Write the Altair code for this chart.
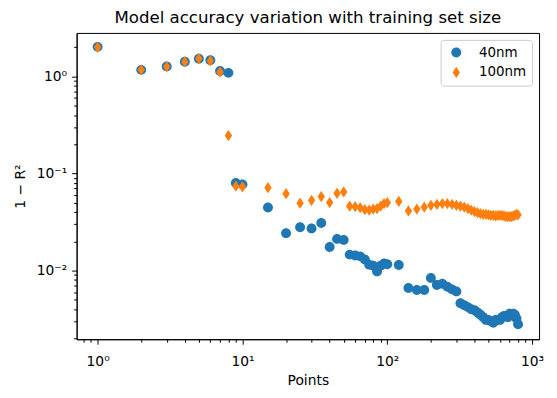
import altair as alt
import pandas as pd

# ---- data ----
points = [1, 2, 3, 4, 5, 6, 7, 8, 9, 10,
          15, 20, 25, 30, 35, 40, 45, 50, 55, 60, 65, 70, 75, 80, 85, 90, 95, 100,
          120, 140, 160, 180, 200, 220, 240, 260, 280, 300, 320, 340, 360, 380, 400,
          420, 440, 460, 480, 500, 520, 540, 560, 580, 600, 620, 640, 660, 680, 700,
          720, 740, 760, 780, 800]

err_40nm = [2.02, 1.17, 1.27, 1.42, 1.52, 1.47, 1.14, 1.09, 0.080, 0.077,
            0.0447, 0.0243, 0.0279, 0.0272, 0.0309, 0.0175, 0.0212, 0.0207, 0.0146, 0.0143,
            0.0140, 0.0130, 0.0115, 0.0112, 0.0098, 0.0112, 0.0118, 0.0116,
            0.0114, 0.0066, 0.0063, 0.0063, 0.0084, 0.0071, 0.0073, 0.0068, 0.0064, 0.0061,
            0.0046, 0.0044, 0.0042, 0.0040, 0.0039, 0.0037, 0.0035, 0.0033, 0.0031, 0.0031,
            0.0030, 0.0029, 0.0031, 0.0031, 0.0031, 0.0033, 0.0034, 0.0034, 0.0033, 0.0036,
            0.0035, 0.0036, 0.0035, 0.0032, 0.0028]

err_100nm = [2.00, 1.17, 1.26, 1.41, 1.53, 1.45, 1.11, 0.246, 0.074, 0.073,
             0.0715, 0.062, 0.0494, 0.053, 0.0578, 0.0502, 0.0625, 0.0645, 0.0460, 0.0455,
             0.0445, 0.0425, 0.0420, 0.0430, 0.0435, 0.0460, 0.0490, 0.0500,
             0.0515, 0.0412, 0.0430, 0.0450, 0.0470, 0.0480, 0.0490, 0.0490, 0.0480, 0.0470,
             0.0460, 0.0450, 0.0435, 0.0420, 0.0405, 0.0395, 0.0385, 0.0380, 0.0380, 0.0375,
             0.0370, 0.0370, 0.0365, 0.0370, 0.0370, 0.0370, 0.0365, 0.0360, 0.0360, 0.0360,
             0.0360, 0.0365, 0.0370, 0.0380, 0.0375]

series = ["40nm", "100nm"]
colors = ["#1f77b4", "#ff7f0e"]

x_major = [1, 10, 100, 1000]
x_minor = [0.8, 0.9, 2, 3, 4, 5, 6, 7, 8, 9, 20, 30, 40, 50, 60, 70, 80, 90,
           200, 300, 400, 500, 600, 700, 800, 900]
y_major = [0.01, 0.1, 1]
y_minor = [0.002, 0.003, 0.004, 0.005, 0.006, 0.007, 0.008, 0.009,
           0.02, 0.03, 0.04, 0.05, 0.06, 0.07, 0.08, 0.09,
           0.2, 0.3, 0.4, 0.5, 0.6, 0.7, 0.8, 0.9, 2]

df = pd.DataFrame({
    "Points": points + points,
    "err": err_40nm + err_100nm,
    "series": [series[0]] * len(points) + [series[1]] * len(points),
})

FONT = "DejaVu Sans"
CIRCLE = "M-0.88,0A0.88,0.88,0,1,0,0.88,0A0.88,0.88,0,1,0,-0.88,0Z"
THIN_DIAMOND = "M0,-1L0.66,0L0,1L-0.66,0Z"

xscale = alt.Scale(type="log", domain=[0.716, 1117], nice=False)
yscale = alt.Scale(type="log", domain=[0.00196, 2.81], nice=False)

x_label_expr = ("datum.value < 5 ? '10⁰' : datum.value < 50 ? '10¹' : "
                "datum.value < 500 ? '10²' : '10³'")
y_label_expr = ("datum.value > 0.5 ? '10⁰' : datum.value > 0.05 ? '10⁻¹' : '10⁻²'")

pts = alt.Chart(df).mark_point(filled=True, opacity=1, size=128, strokeWidth=0).encode(
    x=alt.X("Points:Q", scale=xscale,
            axis=alt.Axis(values=x_major, labelExpr=x_label_expr, title="Points",
                          tickSize=5, labelPadding=10, titlePadding=6)),
    y=alt.Y("err:Q", scale=yscale,
            axis=alt.Axis(values=y_major, labelExpr=y_label_expr, title="1 − R²",
                          tickSize=5, labelPadding=5, titlePadding=9)),
    color=alt.Color("series:N", scale=alt.Scale(domain=series, range=colors),
                    legend=alt.Legend(title=None)),
    shape=alt.Shape("series:N", scale=alt.Scale(domain=series, range=[CIRCLE, THIN_DIAMOND]),
                    legend=alt.Legend(title=None)),
)

minor = alt.Chart(df).mark_point(opacity=0).encode(
    x=alt.X("Points:Q", scale=xscale,
            axis=alt.Axis(values=x_minor, labels=False, title=None, tickSize=3,
                          domain=False, orient="bottom")),
    y=alt.Y("err:Q", scale=yscale,
            axis=alt.Axis(values=y_minor, labels=False, title=None, tickSize=3,
                          domain=False, orient="left")),
)

chart = alt.layer(pts, minor).resolve_axis(x="independent", y="independent").properties(
    width=465,
    height=308,
    autosize=alt.AutoSizeParams(type="none"),
    padding={"left": 69, "top": 24, "right": 10, "bottom": 52},
    title=alt.Title("Model accuracy variation with training set size",
                    font=FONT, fontSize=16.7, fontWeight="normal", color="black",
                    anchor="middle", offset=6),
).configure_view(
    stroke="black", strokeWidth=1
).configure_axis(
    grid=False,
    labelFont=FONT, labelFontSize=13.9, labelColor="black",
    titleFont=FONT, titleFontSize=13.9, titleColor="black", titleFontWeight="normal",
    domainColor="black", domainWidth=1, tickColor="black", tickWidth=1,
).configure_legend(
    orient="top-right", offset=7, padding=6, strokeColor="#cccccc", fillColor="white",
    cornerRadius=3, labelFont=FONT, labelFontSize=13.5, labelColor="black",
    symbolSize=128, rowPadding=5, labelOffset=16, symbolOffset=3, symbolStrokeWidth=0,
)

chart.save("out.html", embed_options={"renderer": "svg", "actions": False})
